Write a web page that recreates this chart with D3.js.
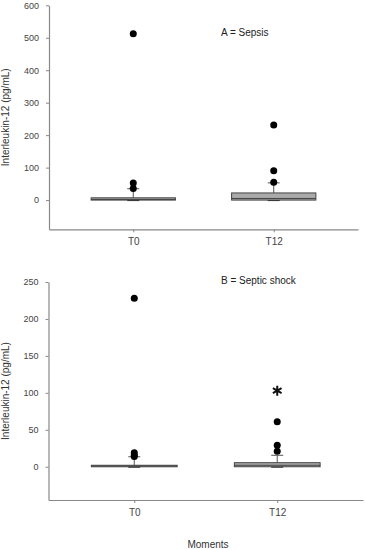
<!DOCTYPE html>
<html>
<head>
<meta charset="utf-8">
<script src="https://cdn.jsdelivr.net/npm/d3@7"></script>
<style>
  body { margin: 0; background: #fff; }
  svg { display: block; font-family: "Liberation Sans", Arial, sans-serif; }
</style>
</head>
<body>
<svg id="chart" width="365" height="550"></svg>
<script>
// categories
const moments = ["T0", "T12"];

// A = Sepsis (pg/mL)
const sepsisQ1 = [0, 0];
const sepsisMedian = [2, 5];
const sepsisQ3 = [7, 22];
const sepsisWhiskerHigh = [35, 53];
const sepsisOutliers = [[36, 53, 512], [55, 90, 231]];
const sepsisTicks = [0, 100, 200, 300, 400, 500, 600];

// B = Septic shock (pg/mL)
const shockQ1 = [0, 0];
const shockMedian = [1, 2];
const shockQ3 = [2, 5.5];
const shockWhiskerHigh = [13.5, 15.5];
const shockOutliers = [[14, 16, 19, 228], [21, 29, 61]];
const shockTicks = [0, 50, 100, 150, 200, 250];
const shockStar = [null, 103]; // significance marker

const svg = d3.select("#chart");

// one boxplot panel
let drawPanel = (opts) => {
  const { top, bottom, left, right, domain, ticks, q1, med, q3, wHi, outliers, title, star } = opts;
  const g = svg.append("g");

  const x = d3.scalePoint().domain(moments).range([left, right]).padding(0.6);
  const y = d3.scaleLinear().domain(domain).range([bottom, top]);
  const boxW = x.step() * 0.6;
  const capW = 12;

  const rows = moments.map((m, i) => ({
    m, q1: q1[i], med: med[i], q3: q3[i], hi: wHi[i], out: outliers[i], star: star ? star[i] : null
  }));

  // axes
  const yAxis = g.append("g")
    .attr("transform", `translate(${left},0)`)
    .call(d3.axisLeft(y).tickValues(ticks).tickSize(3).tickSizeOuter(0).tickPadding(7));
  const xAxis = g.append("g")
    .attr("transform", `translate(0,${bottom})`)
    .call(d3.axisBottom(x).tickSize(3).tickSizeOuter(0).tickPadding(6));
  [yAxis, xAxis].forEach(a => {
    a.select(".domain").attr("stroke", "#888").attr("stroke-width", 1.2);
    a.selectAll(".tick line").attr("stroke", "#888");
    a.selectAll(".tick text").attr("fill", "#444");
  });
  yAxis.selectAll(".tick text").style("font-size", "9px");
  xAxis.selectAll(".tick text").style("font-size", "10px");

  // y axis title
  g.append("text")
    .attr("transform", `translate(9,${(top + bottom) / 2}) rotate(-90)`)
    .attr("text-anchor", "middle")
    .style("font-size", "10px")
    .attr("fill", "#333")
    .text("Interleukin-12 (pg/mL)");

  // panel title
  g.append("text")
    .attr("x", 221).attr("y", top + opts.titleDy)
    .style("font-size", "10px")
    .attr("fill", "#222")
    .text(title);

  const box = g.selectAll(".box").data(rows).enter().append("g").attr("class", "box");

  // whiskers
  box.append("line")
    .attr("x1", d => x(d.m)).attr("x2", d => x(d.m))
    .attr("y1", d => y(d.q3)).attr("y2", d => y(d.hi))
    .attr("stroke", "#555").attr("stroke-width", 1);
  box.append("line")
    .attr("x1", d => x(d.m) - capW / 2).attr("x2", d => x(d.m) + capW / 2)
    .attr("y1", d => y(d.hi)).attr("y2", d => y(d.hi))
    .attr("stroke", "#555").attr("stroke-width", 1);

  // box
  box.append("rect")
    .attr("x", d => x(d.m) - boxW / 2)
    .attr("width", boxW)
    .attr("y", d => y(d.q3))
    .attr("height", d => Math.max(y(d.q1) - y(d.q3), 1.5))
    .attr("fill", "#aaaaaa")
    .attr("stroke", "#444").attr("stroke-width", 1);
  box.append("line")
    .attr("x1", d => x(d.m) - boxW / 2).attr("x2", d => x(d.m) + boxW / 2)
    .attr("y1", d => y(d.med)).attr("y2", d => y(d.med))
    .attr("stroke", "#444").attr("stroke-width", 1);

  // lower cap
  box.append("line")
    .attr("x1", d => x(d.m) - capW / 2).attr("x2", d => x(d.m) + capW / 2)
    .attr("y1", d => y(d.q1) + 0.5).attr("y2", d => y(d.q1) + 0.5)
    .attr("stroke", "#333").attr("stroke-width", 1);

  // outliers
  box.selectAll(".out")
    .data(d => d.out.map(v => ({ m: d.m, v })))
    .enter().append("circle")
    .attr("class", "out")
    .attr("cx", d => x(d.m))
    .attr("cy", d => y(d.v))
    .attr("r", 3.5)
    .attr("fill", "#000");

  // significance asterisk
  box.filter(d => d.star != null)
    .append("path")
    .attr("transform", d => `translate(${x(d.m)},${y(d.star)})`)
    .attr("d", d3.symbol(d3.symbolAsterisk, 70))
    .attr("stroke", "#111").attr("stroke-width", 2).attr("fill", "none");
};

drawPanel({
  top: 5.3, bottom: 229.3, left: 49, right: 358,
  domain: [-90, 600], ticks: sepsisTicks,
  q1: sepsisQ1, med: sepsisMedian, q3: sepsisQ3, wHi: sepsisWhiskerHigh, outliers: sepsisOutliers,
  title: "A = Sepsis", titleDy: 31
});

drawPanel({
  top: 282, bottom: 500, left: 48.5, right: 363,
  domain: [-45, 250], ticks: shockTicks,
  q1: shockQ1, med: shockMedian, q3: shockQ3, wHi: shockWhiskerHigh, outliers: shockOutliers,
  title: "B = Septic shock", titleDy: 1.5, star: shockStar
});

// x axis title
svg.append("text")
  .attr("x", 208).attr("y", 548)
  .attr("text-anchor", "middle")
  .style("font-size", "10px")
  .attr("fill", "#333")
  .text("Moments");
</script>
</body>
</html>
